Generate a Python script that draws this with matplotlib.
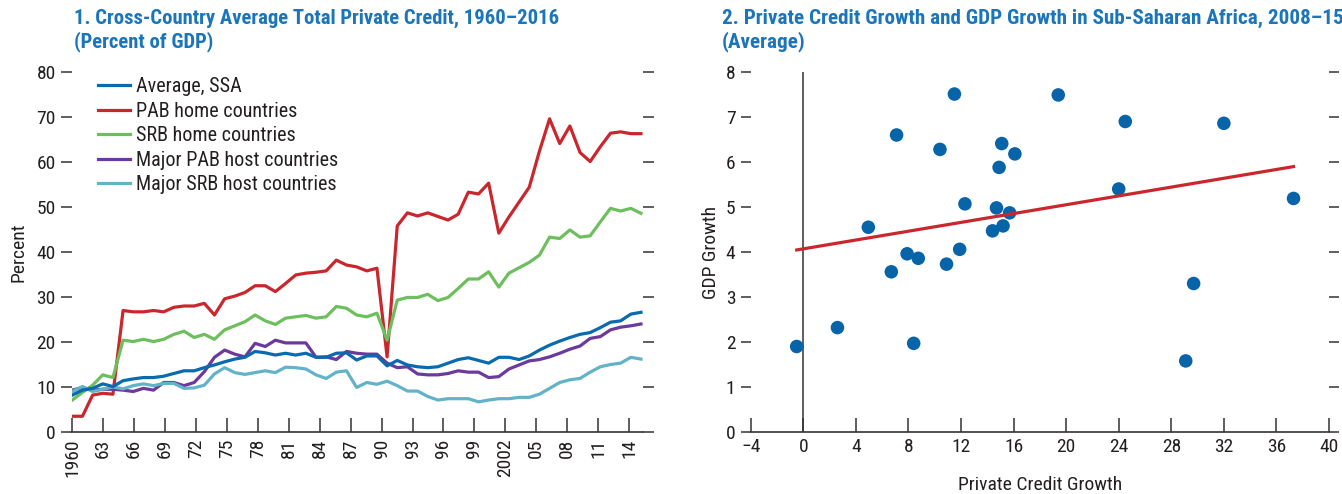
import numpy as np
import matplotlib
matplotlib.use("Agg")
import matplotlib.pyplot as plt

plt.rcParams["font.family"] = ["Roboto Condensed", "Archivo Narrow", "DejaVu Sans"]

# Panel 1: private credit, percent of GDP, 1960-2016
years = np.arange(1960, 2017)
avg_ssa = [8.2, 9.3, 9.7, 10.7, 10.1, 11.4, 11.8, 12.1, 12.1, 12.4,
           13.0, 13.6, 13.6, 14.3, 14.9, 15.6, 16.2, 16.6, 17.9, 17.6,
           17.1, 17.5, 17.1, 17.5, 16.6, 16.6, 17.5, 17.6, 16.0, 16.9,
           16.9, 14.7, 15.9, 14.9, 14.5, 14.3, 14.5, 15.3, 16.1, 16.5,
           15.9, 15.3, 16.6, 16.6, 16.1, 16.9, 18.2, 19.3, 20.2, 21.0,
           21.7, 22.1, 23.2, 24.4, 24.7, 26.2, 26.6]
pab_home = [3.5, 3.5, 8.2, 8.6, 8.4, 27.0, 26.7, 26.7, 27.0, 26.7,
            27.7, 28.0, 28.0, 28.6, 26.0, 29.6, 30.2, 31.0, 32.5, 32.5,
            31.2, 33.0, 34.9, 35.3, 35.5, 35.8, 38.2, 37.1, 36.7, 35.8,
            36.4, 16.7, 45.8, 48.7, 48.0, 48.7, 47.9, 47.1, 48.4, 53.3,
            52.9, 55.3, 44.2, 47.8, 51.1, 54.4, 62.4, 69.6, 64.1, 68.0,
            62.1, 60.1, 63.4, 66.4, 66.7, 66.3, 66.3]
srb_home = [7.1, 8.8, 10.4, 12.7, 12.1, 20.4, 20.1, 20.6, 20.1, 20.6,
            21.7, 22.4, 21.0, 21.7, 20.6, 22.7, 23.6, 24.5, 26.0, 24.7,
            23.9, 25.3, 25.6, 25.9, 25.3, 25.6, 27.9, 27.5, 26.0, 25.6,
            26.4, 20.4, 29.3, 29.9, 29.9, 30.6, 29.2, 29.9, 31.9, 34.0,
            34.0, 35.6, 32.2, 35.3, 36.5, 37.7, 39.3, 43.3, 43.0, 44.9,
            43.3, 43.6, 46.7, 49.7, 49.1, 49.7, 48.6]
pab_host = [9.3, 9.9, 9.3, 9.5, 9.5, 9.3, 9.0, 9.7, 9.3, 11.0,
            11.0, 10.3, 11.0, 13.4, 16.6, 18.2, 17.3, 16.7, 19.7, 19.0,
            20.4, 19.8, 19.8, 19.8, 16.6, 16.7, 16.1, 17.9, 17.5, 17.3,
            17.3, 15.3, 14.3, 14.5, 12.9, 12.7, 12.7, 13.0, 13.6, 13.3,
            13.3, 12.1, 12.3, 14.0, 14.9, 15.8, 16.1, 16.7, 17.5, 18.4,
            19.1, 20.8, 21.2, 22.7, 23.3, 23.6, 24.0]
srb_host = [9.0, 10.1, 9.0, 9.5, 10.0, 9.6, 10.3, 10.7, 10.3, 10.8,
            10.8, 9.7, 9.8, 10.4, 12.9, 14.3, 13.2, 12.8, 13.2, 13.6,
            13.2, 14.4, 14.3, 14.0, 12.7, 11.9, 13.3, 13.6, 9.9, 11.0,
            10.6, 11.3, 10.3, 9.1, 9.1, 7.9, 7.1, 7.4, 7.4, 7.4,
            6.7, 7.1, 7.4, 7.4, 7.7, 7.7, 8.4, 9.7, 11.0, 11.6,
            11.9, 13.3, 14.5, 15.0, 15.3, 16.6, 16.2]
tick_years = np.arange(1960, 2015, 3)
tick_labels = ["1960", "63", "66", "69", "72", "75", "78", "81", "84", "87",
               "90", "93", "96", "99", "2002", "05", "08", "11", "14"]

# Panel 2: private credit growth vs GDP growth, 2008-15 averages
credit_growth = [-0.5, 2.6, 6.7, 8.4, 10.9, 4.95, 7.1, 11.5, 10.4, 7.9,
                 8.75, 11.9, 12.3, 15.1, 16.1, 14.9, 14.7, 15.7, 14.4, 15.2,
                 19.4, 24.5, 32.0, 24.0, 37.3, 29.7, 29.1]
gdp_growth = [1.90, 2.32, 3.56, 1.97, 3.73, 4.55, 6.60, 7.51, 6.28, 3.96,
              3.86, 4.06, 5.07, 6.41, 6.18, 5.88, 4.98, 4.87, 4.47, 4.58,
              7.49, 6.90, 6.86, 5.40, 5.19, 3.30, 1.58]
fit_intercept = 4.07
fit_slope = 0.049

title_blue = "#1B75BB"
text_col = "#231F20"
fs = 14

fig = plt.figure(figsize=(13.42, 4.94), dpi=100)

# ---------------- left panel
ax1 = fig.add_axes([72.3 / 1342, 62 / 494, (643 - 72.3) / 1342, 360 / 494])
ax1.plot(years, avg_ssa, color="#0A6AAE", lw=2.3, label="Average, SSA", zorder=5)
ax1.plot(years, pab_home, color="#C9272D", lw=2.3, label="PAB home countries")
ax1.plot(years, srb_home, color="#6DBF5E", lw=2.3, label="SRB home countries")
ax1.plot(years, pab_host, color="#6B3A9C", lw=2.3, label="Major PAB host countries")
ax1.plot(years, srb_host, color="#62B3C7", lw=2.3, label="Major SRB host countries")
ax1.set_xlim(1960, 2016.2)
ax1.set_ylim(0, 80)
ax1.set_yticks(range(0, 81, 10))
for s in ["top", "left", "right"]:
    ax1.spines[s].set_visible(False)
ax1.spines["bottom"].set_color("#333333")
ax1.spines["bottom"].set_linewidth(1.2)
ax1.tick_params(axis="y", left=True, right=True, direction="out", length=8,
                width=1.1, color="#333333", labelsize=fs, labelcolor=text_col, pad=4)
ax1.tick_params(axis="x", bottom=False, labelbottom=False)

# tick axis of the reference is spaced slightly wider than the data points
r = 10.31 / 10.155
sec = ax1.secondary_xaxis("bottom", functions=(lambda x: 1960 + (x - 1960) / r,
                                                lambda s: 1960 + (s - 1960) * r))
sec.set_xticks(tick_years)
sec.set_xticklabels(tick_labels, rotation=90)
sec.spines["bottom"].set_visible(False)
sec.tick_params(direction="in", length=10, width=1.1, color="#333333",
                labelsize=fs, labelcolor=text_col, pad=5)
ax1.set_ylabel("Percent", fontsize=fs, color=text_col, labelpad=6)

ax1.legend(loc="upper left", bbox_to_anchor=(0.045, 0.985), frameon=False,
           fontsize=14.5, handlelength=1.6, handletextpad=0.3,
           labelspacing=0.27, borderpad=0, borderaxespad=0, labelcolor=text_col)

fig.text(74 / 1342, 1 - 9 / 494,
         "1. Cross-Country Average Total Private Credit, 1960\u20132016\n(Percent of GDP)",
         ha="left", va="top", fontsize=14.9, fontweight="bold", color=title_blue,
         linespacing=1.2)

# ---------------- right panel
ax2 = fig.add_axes([750.7 / 1342, 62 / 494, (1329 - 750.7) / 1342, 360 / 494])
ax2.axvline(0, color="#333333", lw=1.1, zorder=1)
ax2.scatter(credit_growth, gdp_growth, s=95, color="#0864A8", edgecolors="none", zorder=3)
fx = np.array([min(credit_growth), max(credit_growth)])
ax2.plot(fx, fit_intercept + fit_slope * fx, color="#C9272D", lw=2.3, zorder=4)
ax2.set_xlim(-4, 40)
ax2.set_ylim(0, 8)
ax2.set_xticks(range(-4, 41, 4))
ax2.set_yticks(range(0, 9))
for s in ["top", "left", "right"]:
    ax2.spines[s].set_visible(False)
ax2.spines["bottom"].set_color("#333333")
ax2.spines["bottom"].set_linewidth(1.2)
ax2.tick_params(axis="y", left=True, right=True, direction="out", length=7,
                width=1.1, color="#333333", labelsize=fs, labelcolor=text_col, pad=4)
ax2.tick_params(axis="x", direction="in", length=10, width=1.1, color="#333333",
                labelsize=fs, labelcolor=text_col, pad=4)
ax2.set_xlabel("Private Credit Growth", fontsize=fs, color=text_col, labelpad=15)
ax2.set_ylabel("GDP Growth", fontsize=fs, color=text_col, labelpad=4)

fig.text(722 / 1342, 1 - 9 / 494,
         "2. Private Credit Growth and GDP Growth in Sub-Saharan Africa, 2008\u201315\n(Average)",
         ha="left", va="top", fontsize=15.2, fontweight="bold", color=title_blue,
         linespacing=1.2)

fig.savefig("out.png", dpi=100)
